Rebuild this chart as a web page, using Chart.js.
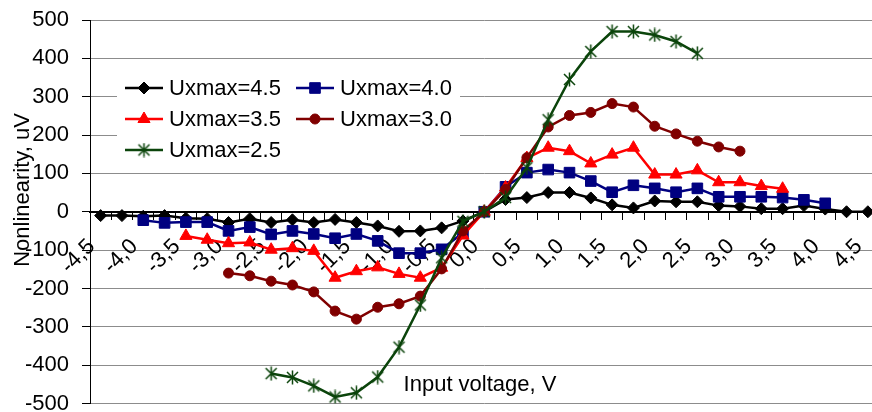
<!DOCTYPE html>
<html>
<head>
<meta charset="utf-8">
<script src="https://cdn.jsdelivr.net/npm/chart.js@4.4.1/dist/chart.umd.min.js"></script>
<style>
  html, body { margin: 0; padding: 0; background: #fff; overflow: hidden; }
  canvas { display: block; }
</style>
</head>
<body>
<canvas id="canvas" width="887" height="412"></canvas>
<script>
// input voltage, V (category axis, 0.25 V step)
var voltages = [-4.5, -4.25, -4.0, -3.75, -3.5, -3.25, -3.0, -2.75, -2.5, -2.25, -2.0, -1.75, -1.5,
    -1.25, -1.0, -0.75, -0.5, -0.25, 0.0, 0.25, 0.5, 0.75, 1.0, 1.25, 1.5, 1.75, 2.0, 2.25, 2.5,
    2.75, 3.0, 3.25, 3.5, 3.75, 4.0, 4.25, 4.5];

var seriesNames = ["Uxmax=4.5", "Uxmax=4.0", "Uxmax=3.5", "Uxmax=3.0", "Uxmax=2.5"];
var seriesStart = [-4.5, -4.0, -3.5, -3.0, -2.5];

// nonlinearity, uV
var u45 = [-10, -10, -12, -10, -17, -18, -28, -18, -28, -21, -28, -20, -28, -37, -51, -50, -42, -24,
    0, 32, 37, 50, 50, 36, 18, 10, 28, 26, 26, 16, 14, 8, 8, 16, 7, 0, 0];
var u40 = [-22, -29, -27, -27, -50, -40, -59, -50, -58, -69, -58, -76, -108, -108, -98, -55,
    0, 65, 102, 110, 102, 80, 51, 69, 61, 51, 61, 39, 39, 39, 37, 31, 22];
var u35 = [-63, -73, -82, -80, -99, -95, -102, -172, -155, -145, -162, -172, -146, -62,
    0, 63, 140, 167, 158, 126, 149, 167, 97, 97, 108, 77, 77, 67, 60];
var u30 = [-160, -167, -181, -191, -209, -259, -280, -249, -240, -220, -149, -50,
    0, 58, 141, 221, 251, 259, 282, 273, 223, 203, 184, 169, 158];
var u25 = [-422, -432, -454, -483, -472, -431, -353, -243, -120, -25,
    0, 37, 115, 240, 345, 418, 470, 470, 461, 444, 413];

var allValues = [u45, u40, u35, u30, u25];
var colors = ["#000000", "#000080", "#ff0000", "#800000", "#0b440b"];
var markers = ["rectRot", "rect", "triangle", "circle", "asterisk"];
var markerSize = [6, 7.5, 7, 5, 6.5];

var fontFamily = '"Liberation Sans", Arial, sans-serif';

function fmt(v) {
    return v.toFixed(1).replace(".", ",");
}

function padSeries(start, values) {
    var first = voltages.indexOf(start);
    return voltages.map(function (v, i) {
        var k = i - first;
        return (k >= 0 && k < values.length) ? values[k] : null;
    });
}

// excel-like star marker: X with a vertical bar
function asteriskMarker(color) {
    var c = document.createElement("canvas");
    c.width = 15;
    c.height = 15;
    var g = c.getContext("2d");
    g.strokeStyle = color;
    g.lineWidth = 1.5;
    g.beginPath();
    g.moveTo(2, 2); g.lineTo(13, 13);
    g.moveTo(13, 2); g.lineTo(2, 13);
    g.moveTo(7.5, 0.5); g.lineTo(7.5, 14.5);
    g.stroke();
    return c;
}

var datasets = [];
for (var i = 0; i < seriesNames.length; i++) {
    var style = markers[i] === "asterisk" ? asteriskMarker(colors[i]) : markers[i];
    datasets.push({
        label: seriesNames[i],
        data: padSeries(seriesStart[i], allValues[i]),
        borderColor: colors[i],
        backgroundColor: colors[i],
        borderWidth: 2.5,
        pointStyle: style,
        pointRadius: markerSize[i],
        pointBackgroundColor: colors[i],
        pointBorderColor: colors[i],
        pointBorderWidth: 1,
        tension: 0,
        order: seriesNames.length - i,
    });
}

var extras = {
    id: "extras",
    afterDraw: function (chart) {
        var ctx = chart.ctx;
        ctx.save();
        // legend box
        ctx.fillStyle = "#ffffff";
        ctx.fillRect(117, 66, 343, 102);
        var cols = [125, 296];
        var rows = [88, 119, 150];
        chart.data.datasets.forEach(function (ds, i) {
            var x = cols[i % 2], y = rows[Math.floor(i / 2)];
            ctx.strokeStyle = ds.borderColor;
            ctx.lineWidth = ds.borderWidth;
            ctx.beginPath();
            ctx.moveTo(x, y);
            ctx.lineTo(x + 38, y);
            ctx.stroke();
            ctx.fillStyle = ds.pointBackgroundColor;
            ctx.strokeStyle = ds.pointBorderColor;
            ctx.lineWidth = ds.pointBorderWidth;
            Chart.helpers.drawPoint(ctx, {
                pointStyle: ds.pointStyle,
                radius: ds.pointRadius,
                borderWidth: ds.pointBorderWidth,
                rotation: 0,
            }, x + 19, y);
            ctx.fillStyle = "#000";
            ctx.font = "22px " + fontFamily;
            ctx.textAlign = "left";
            ctx.textBaseline = "middle";
            ctx.fillText(ds.label, x + 44, y + 1);
        });
        // axis titles
        ctx.fillStyle = "#000";
        ctx.font = "22px " + fontFamily;
        ctx.textAlign = "center";
        ctx.textBaseline = "alphabetic";
        ctx.fillText("Input voltage, V", 480, 391);
        ctx.translate(29, 190);
        ctx.rotate(-Math.PI / 2);
        ctx.fillText("Nonlinearity, uV", 0, 0);
        ctx.restore();
    },
};

window.onload = function () {
    var ctx = document.getElementById("canvas").getContext("2d");
    window.myLine = new Chart(ctx, {
        type: "line",
        data: {
            labels: voltages.map(fmt),
            datasets: datasets,
        },
        plugins: [extras],
        options: {
            responsive: false,
            animation: false,
            layout: { padding: { top: 20, bottom: 8, left: 0, right: 0 } },
            font: { family: fontFamily, size: 22 },
            plugins: {
                legend: { display: false },
                tooltip: { enabled: false },
            },
            scales: {
                x: {
                    type: "category",
                    position: { y: 0 },
                    offset: true,
                    afterFit: function (scale) {
                        scale.paddingLeft = 0;
                        scale.paddingRight = 0;
                    },
                    grid: {
                        drawOnChartArea: false,
                        offset: true,
                        tickLength: 7,
                        color: "#000",
                    },
                    border: { color: "#000", width: 2 },
                    ticks: {
                        autoSkip: false,
                        maxRotation: 45,
                        minRotation: 45,
                        padding: 15,
                        labelOffset: -9,
                        color: "#000",
                        font: { family: fontFamily, size: 22 },
                        callback: function (val, index) {
                            return index % 2 === 0 ? fmt(voltages[index]) : "";
                        },
                    },
                },
                y: {
                    min: -500,
                    max: 500,
                    afterFit: function (scale) {
                        scale.width = 90;
                        scale.paddingTop = 0;
                        scale.paddingBottom = 0;
                    },
                    grid: { color: "#8c8c8c", tickColor: "#000", tickLength: 8 },
                    border: { color: "#000", width: 1 },
                    ticks: {
                        stepSize: 100,
                        padding: 13,
                        color: "#000",
                        font: { family: fontFamily, size: 22 },
                    },
                },
            },
        },
    });
};
</script>
</body>
</html>
